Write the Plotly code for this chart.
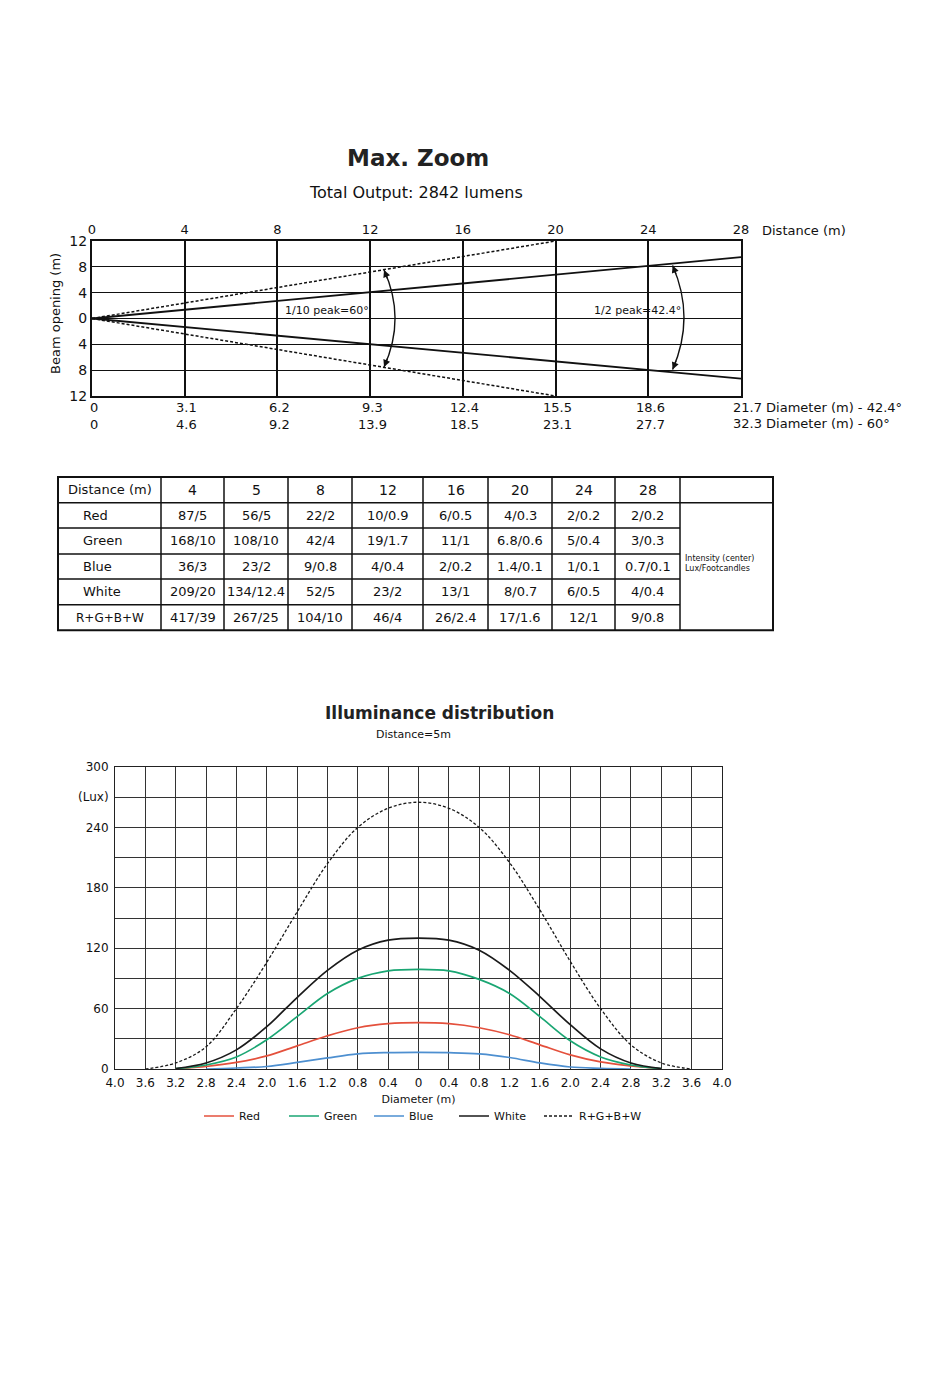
import plotly.graph_objects as go

W, H = 950, 1387
FONT = "DejaVu Sans"

# ---------------- Beam chart data ----------------
distance_ticks = [0, 4, 8, 12, 16, 20, 24, 28]
distance_labels = ["0", "4", "8", "12", "16", "20", "24", "28"]
opening_ticks = [-12, -8, -4, 0, 4, 8, 12]
opening_labels = ["12", "8", "4", "0", "4", "8", "12"]
diameter_42 = ["0", "3.1", "6.2", "9.3", "12.4", "15.5", "18.6", "21.7"]
diameter_60 = ["0", "4.6", "9.2", "13.9", "18.5", "23.1", "27.7", "32.3"]
half_peak_dist = [0, 28]
half_peak_upper = [0, 9.5]
half_peak_lower = [0, -9.3]
tenth_peak_dist = [0, 20]
tenth_peak_upper = [0, 12]
tenth_peak_lower = [0, -12]

# ---------------- Table data ----------------
table_distances = ["4", "5", "8", "12", "16", "20", "24", "28"]
table_colors = ["Red", "Green", "Blue", "White", "R+G+B+W"]
red_lux_fc = ["87/5", "56/5", "22/2", "10/0.9", "6/0.5", "4/0.3", "2/0.2", "2/0.2"]
green_lux_fc = ["168/10", "108/10", "42/4", "19/1.7", "11/1", "6.8/0.6", "5/0.4", "3/0.3"]
blue_lux_fc = ["36/3", "23/2", "9/0.8", "4/0.4", "2/0.2", "1.4/0.1", "1/0.1", "0.7/0.1"]
white_lux_fc = ["209/20", "134/12.4", "52/5", "23/2", "13/1", "8/0.7", "6/0.5", "4/0.4"]
rgbw_lux_fc = ["417/39", "267/25", "104/10", "46/4", "26/2.4", "17/1.6", "12/1", "9/0.8"]

# ---------------- Illuminance data ----------------
diameter_m = [-3.6, -3.2, -2.8, -2.4, -2.0, -1.6, -1.2, -0.8, -0.4, 0,
              0.4, 0.8, 1.2, 1.6, 2.0, 2.4, 2.8, 3.2, 3.6]
red_lux = [None, 0.2, 2.5, 6.5, 13, 23, 33, 41, 45, 46, 45, 41, 34, 24, 14, 7, 3, 0.2, None]
green_lux = [None, 0.3, 4, 12, 29, 52, 75, 90, 97.5, 99, 97.5, 89, 75, 52, 28, 12, 4, 0.3, None]
blue_lux = [None, None, 0, 1, 2.5, 6.5, 11, 15, 16.3, 16.6, 16.2, 15, 11.4, 6, 2, 0.7, 0, None, None]
white_lux = [None, 0.5, 6, 19, 42, 71, 98, 118, 128, 130, 128, 118, 98, 72, 44, 20, 6, 0.5, None]
rgbw_lux = [0, 6, 22, 60, 106, 156, 204, 240, 259, 265, 259, 240, 205, 158, 107, 60, 24, 6, 0]
diameter_tick_labels = ["4.0", "3.6", "3.2", "2.8", "2.4", "2.0", "1.6", "1.2", "0.8", "0.4", "0",
                        "0.4", "0.8", "1.2", "1.6", "2.0", "2.4", "2.8", "3.2", "3.6", "4.0"]
lux_tick_labels = ["0", "", "60", "", "120", "", "180", "", "240", "(Lux)", "300"]
fc_tick_labels = ["0", "", "6", "", "11", "", "17", "", "22", "(Foot-candles)", "28"]


def px(x):
    return x / W


def py(y):
    return 1 - y / H


fig = go.Figure()

# ---- beam chart traces ----
for xs, ys in [(half_peak_dist, half_peak_upper), (half_peak_dist, half_peak_lower)]:
    fig.add_trace(go.Scatter(x=xs, y=ys, mode="lines", line=dict(color="#111", width=1.8),
                             showlegend=False, hoverinfo="skip", xaxis="x", yaxis="y"))
for xs, ys in [(tenth_peak_dist, tenth_peak_upper), (tenth_peak_dist, tenth_peak_lower)]:
    fig.add_trace(go.Scatter(x=xs, y=ys, mode="lines", line=dict(color="#111", width=1.5, dash="3px,2px"),
                             showlegend=False, hoverinfo="skip", xaxis="x", yaxis="y"))

# ---- illuminance traces ----
series = [
    ("Red", red_lux, "#e4503c", "solid", 1.7, "legend"),
    ("Green", green_lux, "#1aa673", "solid", 1.7, "legend"),
    ("Blue", blue_lux, "#4d8fd0", "solid", 1.7, "legend"),
    ("White", white_lux, "#1a1a1a", "solid", 1.7, "legend"),
    ("R+G+B+W", rgbw_lux, "#1a1a1a", "3px,2px", 1.3, "legend2"),
]
for name, vals, col, dash, wd, leg in series:
    fig.add_trace(go.Scatter(x=diameter_m, y=vals, name=name, mode="lines", legend=leg,
                             line=dict(color=col, width=wd, dash=dash, shape="spline", smoothing=1.0),
                             connectgaps=False, xaxis="x2", yaxis="y2"))

illum_tickvals = [round(-4 + 0.4 * i, 1) for i in range(21)]
lux_tickvals = [30 * i for i in range(11)]

fig.update_layout(
    width=W, height=H, autosize=False,
    margin=dict(l=0, r=0, t=0, b=0, pad=0),
    paper_bgcolor="white", plot_bgcolor="white",
    font=dict(family=FONT, color="#111", size=13),
    xaxis=dict(domain=[px(92), px(741)], range=[0, 28], side="top", anchor="y", automargin=False,
               tickvals=distance_ticks, ticktext=distance_labels, tickfont=dict(size=13),
               showgrid=True, gridcolor="#111", gridwidth=2, zeroline=False,
               showline=True, mirror=True, linecolor="#111", linewidth=2, ticks="", fixedrange=True),
    yaxis=dict(domain=[py(396), py(241)], range=[-12, 12], anchor="x", automargin=False,
               tickvals=opening_ticks, ticktext=opening_labels, tickfont=dict(size=14),
               showgrid=True, gridcolor="#111", gridwidth=1.3, zeroline=False,
               showline=True, mirror=True, linecolor="#111", linewidth=2, ticks="", fixedrange=True),
    xaxis2=dict(domain=[px(115), px(722)], range=[-4, 4], anchor="y2", automargin=False,
                tickvals=illum_tickvals, ticktext=diameter_tick_labels, tickfont=dict(size=12),
                ticklabelstandoff=3,
                showgrid=True, gridcolor="#333", gridwidth=1, zeroline=False,
                showline=True, mirror=True, linecolor="#222", linewidth=1, ticks="",
                title=dict(text="Diameter (m)", font=dict(size=11), standoff=5), fixedrange=True),
    yaxis2=dict(domain=[py(1069), py(767)], range=[0, 300], anchor="x2", automargin=False,
                tickvals=lux_tickvals, ticktext=lux_tick_labels, tickfont=dict(size=12),
                ticklabelstandoff=3,
                showgrid=True, gridcolor="#333", gridwidth=1, zeroline=False,
                showline=True, mirror=True, linecolor="#222", linewidth=1, ticks="", fixedrange=True),
    yaxis4=dict(domain=[py(1069), py(767)], range=[0, 300], anchor="x2", overlaying="y2", side="right",
                automargin=False, tickvals=lux_tickvals, ticktext=fc_tick_labels, tickfont=dict(size=12),
                showgrid=False, zeroline=False, showline=False, ticks="", fixedrange=True),
    legend=dict(orientation="h", x=px(199), xanchor="left", y=py(1116), yanchor="middle",
                font=dict(size=11), bgcolor="rgba(0,0,0,0)", entrywidth=40, entrywidthmode="pixels"),
    legend2=dict(orientation="h", x=px(539), xanchor="left", y=py(1116), yanchor="middle",
                 font=dict(size=11), bgcolor="rgba(0,0,0,0)"),
)

annotations = []
shapes = []

# ---- titles ----
annotations.append(dict(text="<b>Max. Zoom</b>", x=px(418), y=py(158), xref="paper", yref="paper",
                        showarrow=False, font=dict(size=23, color="#222"), xanchor="center", yanchor="middle"))
annotations.append(dict(text="Total Output: 2842 lumens", x=px(416), y=py(192), xref="paper", yref="paper",
                        showarrow=False, font=dict(size=16), xanchor="center", yanchor="middle"))
annotations.append(dict(text="Beam opening (m)", x=px(55), y=py(314), xref="paper", yref="paper",
                        textangle=-90, showarrow=False, font=dict(size=13), xanchor="center", yanchor="middle"))
annotations.append(dict(text="Distance (m)", x=28, y=py(230), xref="x", yref="paper", xshift=19,
                        showarrow=False, font=dict(size=13), xanchor="left", yanchor="middle"))

# ---- diameter rows below beam chart ----
for i, d in enumerate(distance_ticks):
    t1, t2 = diameter_42[i], diameter_60[i]
    if i == len(distance_ticks) - 1:
        annotations.append(dict(text=t1 + " Diameter (m) - 42.4°", x=d, y=py(407), xref="x", yref="paper",
                                xshift=-10, showarrow=False, xanchor="left", yanchor="middle"))
        annotations.append(dict(text=t2 + " Diameter (m) - 60°", x=d, y=py(423), xref="x", yref="paper",
                                xshift=-10, showarrow=False, xanchor="left", yanchor="middle"))
    else:
        annotations.append(dict(text=t1, x=d, y=py(407), xref="x", yref="paper", xshift=2,
                                showarrow=False, xanchor="center", yanchor="middle"))
        annotations.append(dict(text=t2, x=d, y=py(424), xref="x", yref="paper", xshift=2,
                                showarrow=False, xanchor="center", yanchor="middle"))

# ---- beam angle labels & arcs ----
annotations.append(dict(text="1/10 peak=60°", x=10.15, y=1.2, xref="x", yref="y", showarrow=False,
                        font=dict(size=11), xanchor="center", yanchor="middle"))
annotations.append(dict(text="1/2 peak=42.4°", x=23.55, y=1.2, xref="x", yref="y", showarrow=False,
                        font=dict(size=11), xanchor="center", yanchor="middle"))
arcs = [((12.6, 7.5), (13.55, 0.0), (12.6, -7.5)), ((25.05, 8.2), (26.03, 0.15), (25.05, -7.9))]
for (x0, y0), (cx, cy), (x1, y1) in arcs:
    shapes.append(dict(type="path", xref="x", yref="y",
                       path=f"M {x0},{y0} Q {cx},{cy} {x1},{y1}", line=dict(color="#111", width=1.4)))
    annotations.append(dict(text="", x=x0, y=y0, xref="x", yref="y", ax=4, ay=10, showarrow=True,
                            arrowhead=2, arrowsize=1.1, arrowwidth=1.3, arrowcolor="#111", standoff=0))
    annotations.append(dict(text="", x=x1, y=y1, xref="x", yref="y", ax=4, ay=-10, showarrow=True,
                            arrowhead=2, arrowsize=1.1, arrowwidth=1.3, arrowcolor="#111", standoff=0))

# ---- table ----
col_edges = [58, 161, 224, 288, 352, 423, 488, 552, 615, 680, 773]
row_edges = [477, 502.7, 528, 554, 579, 604.7, 630.3]
shapes.append(dict(type="rect", xref="paper", yref="paper", x0=px(col_edges[0]), x1=px(col_edges[-1]),
                   y0=py(row_edges[0]), y1=py(row_edges[-1]), line=dict(color="#111", width=2)))
for xe in col_edges[1:-1]:
    shapes.append(dict(type="line", xref="paper", yref="paper", x0=px(xe), x1=px(xe),
                       y0=py(row_edges[0]), y1=py(row_edges[-1]), line=dict(color="#111", width=1.5)))
shapes.append(dict(type="line", xref="paper", yref="paper", x0=px(col_edges[0]), x1=px(col_edges[-1]),
                   y0=py(row_edges[1]), y1=py(row_edges[1]), line=dict(color="#111", width=1.5)))
for ye in row_edges[2:-1]:
    shapes.append(dict(type="line", xref="paper", yref="paper", x0=px(col_edges[0]), x1=px(col_edges[-2]),
                       y0=py(ye), y1=py(ye), line=dict(color="#111", width=1.5)))


def cell_center(c, r):
    return px((col_edges[c] + col_edges[c + 1]) / 2), py((row_edges[r] + row_edges[r + 1]) / 2)


cx0, cy0 = cell_center(0, 0)
annotations.append(dict(text="Distance (m)", x=cx0, y=cy0, xref="paper", yref="paper", showarrow=False,
                        font=dict(size=13), xanchor="center", yanchor="middle"))
for j, d in enumerate(table_distances):
    cx, cy = cell_center(j + 1, 0)
    annotations.append(dict(text=d, x=cx, y=cy, xref="paper", yref="paper", showarrow=False,
                            font=dict(size=14), xanchor="center", yanchor="middle"))
rows = [red_lux_fc, green_lux_fc, blue_lux_fc, white_lux_fc, rgbw_lux_fc]
for i, (label, vals) in enumerate(zip(table_colors, rows)):
    cx, cy = cell_center(0, i + 1)
    if label == "R+G+B+W":
        annotations.append(dict(text=label, x=cx, y=cy, xref="paper", yref="paper", showarrow=False,
                                font=dict(size=12), xanchor="center", yanchor="middle"))
    else:
        annotations.append(dict(text=label, x=px(81), y=cy, xref="paper", yref="paper", showarrow=False,
                                font=dict(size=13), xanchor="left", yanchor="middle"))
    for j, v in enumerate(vals):
        cx, cy = cell_center(j + 1, i + 1)
        annotations.append(dict(text=v, x=cx, y=cy, xref="paper", yref="paper", showarrow=False,
                                font=dict(size=13), xanchor="center", yanchor="middle"))
annotations.append(dict(text="Intensity (center)<br>Lux/Footcandles", x=px(683), y=py(563),
                        xref="paper", yref="paper", showarrow=False, align="left",
                        font=dict(size=8), xanchor="left", yanchor="middle"))

# ---- illuminance titles ----
annotations.append(dict(text="<b>Illuminance distribution</b>", x=px(439), y=py(713), xref="paper", yref="paper",
                        showarrow=False, font=dict(size=17, color="#222"), xanchor="center", yanchor="middle"))
annotations.append(dict(text="Distance=5m", x=px(413), y=py(734), xref="paper", yref="paper",
                        showarrow=False, font=dict(size=11), xanchor="center", yanchor="middle"))

fig.update_layout(annotations=annotations, shapes=shapes)

fig.write_html("out.html", config={"displayModeBar": False, "responsive": False},
               post_script="document.body.style.margin='0';")
